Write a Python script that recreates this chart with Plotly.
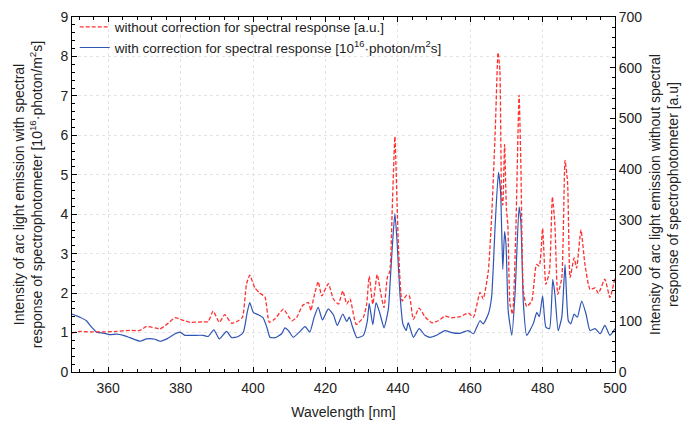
import plotly.graph_objects as go

# Blue: with correction (left axis, 10^16 photon/m^2 s)
wl_blue = [350.0, 352.2, 354.0, 355.0, 356.8, 358.7, 360.5, 362.3, 364.2, 366.0, 368.8, 370.6, 372.9, 374.3,
           376.2, 378.5, 379.8, 381.2, 383.5, 386.3, 387.6, 389.2, 390.7, 392.7, 394.1, 395.9, 397.3, 398.4,
           399.1, 400.1, 401.5, 402.8, 403.8, 404.7, 406.1, 407.9, 408.8, 409.8, 411.1, 412.5, 414.4, 415.7,
           416.9, 418.0, 419.2, 420.8, 422.2, 423.3, 424.8, 425.9, 426.6, 427.5, 428.7, 430.5, 431.6, 432.1,
           433.1, 434.0, 435.1, 436.2, 437.4, 437.9, 438.5, 439.2, 439.8, 440.6, 441.4, 442.3, 442.9, 444.3,
           445.9, 447.5, 448.9, 450.7, 453.0, 454.9, 457.0, 459.5, 460.9, 462.7, 463.6, 465.0, 465.9, 466.9,
           467.8, 468.4, 469.0, 469.5, 469.9, 470.5, 471.5, 472.4, 473.5, 474.0, 474.7, 475.6, 477.4, 478.4,
           479.1, 480.0, 480.9, 481.9, 482.8, 483.4, 484.3, 485.3, 486.2, 487.1, 487.8, 488.7, 489.6, 490.8,
           492.0, 493.1, 494.5, 495.9, 497.2, 498.6, 500.0]
blue = [1.47, 1.39, 1.30, 1.18, 1.01, 0.985, 0.95, 0.96, 0.93, 0.87, 0.78, 0.84, 0.83, 0.78,
        0.84, 0.97, 1.01, 0.93, 0.93, 0.93, 0.90, 1.07, 0.84, 1.03, 0.87, 0.90, 1.00, 1.51,
        1.76, 1.51, 1.45, 1.37, 1.14, 0.88, 0.87, 0.97, 1.12, 1.05, 0.88, 0.985, 1.15, 1.01,
        1.39, 1.64, 1.32, 1.60, 1.45, 1.18, 1.47, 1.28, 1.39, 1.14, 0.87, 0.93, 1.30, 1.74,
        1.20, 1.76, 1.47, 1.12, 1.60, 2.30, 3.20, 4.02, 3.30, 1.97, 1.22, 1.05, 1.25, 0.88,
        1.10, 0.93, 0.88, 0.93, 1.05, 1.00, 0.98, 1.05, 0.97, 1.30, 1.22, 1.47, 1.89, 3.73,
        5.06, 4.56, 2.60, 3.56, 3.23, 1.55, 0.93, 2.00, 4.19, 3.81, 1.72, 0.93, 1.22, 1.51,
        1.40, 1.93, 1.14, 1.10, 2.35, 1.97, 1.05, 1.39, 2.72, 1.30, 1.22, 1.47, 1.39, 1.80,
        1.47, 1.05, 1.10, 0.97, 1.18, 0.93, 1.10]

# Red: without correction (right axis, a.u.)
wl_red = [350.0, 352.2, 355.0, 358.7, 362.3, 366.0, 368.8, 370.6, 372.9, 374.3, 376.2, 378.5, 380.3, 382.6,
          386.3, 387.6, 389.0, 390.7, 392.2, 394.1, 395.9, 397.1, 398.2, 399.1, 400.5, 401.8, 403.3, 404.5,
          406.1, 408.4, 410.7, 412.1, 413.7, 415.3, 416.0, 416.7, 418.0, 419.0, 420.8, 422.2, 423.6, 424.8,
          425.9, 426.8, 428.5, 430.5, 431.4, 432.1, 433.1, 434.3, 435.5, 436.2, 437.1, 437.8, 438.5, 439.2,
          439.8, 440.2, 441.2, 442.5, 443.2, 444.3, 445.9, 447.5, 449.4, 451.2, 453.0, 454.9, 457.2, 459.5,
          460.9, 462.7, 463.6, 465.0, 465.9, 466.9, 467.7, 468.2, 468.7, 469.0, 469.5, 470.0, 470.4, 471.0,
          471.7, 472.6, 473.5, 474.0, 474.7, 475.6, 477.0, 478.3, 479.1, 480.0, 480.9, 481.9, 482.7, 483.4,
          484.2, 485.3, 486.2, 486.9, 487.6, 488.7, 489.4, 490.6, 491.7, 493.1, 494.5, 495.4, 497.2, 498.6,
          500.0]
red = [77, 80, 79, 79, 80, 82, 82, 90, 87, 85, 94, 107, 103, 98,
       99, 99, 120, 98, 113, 96, 101, 108, 173, 191, 166, 156, 148, 98,
       105, 124, 101, 108, 131, 137, 121, 144, 178, 150, 174, 144, 134, 160,
       134, 144, 94, 108, 134, 189, 134, 192, 147, 127, 186, 199, 330, 464,
       330, 244, 140, 152, 150, 104, 126, 109, 97, 101, 110, 107, 109, 116,
       108, 157, 144, 199, 303, 472, 630, 595, 342, 329, 449, 322, 290, 134,
       114, 277, 546, 407, 160, 129, 140, 212, 209, 283, 173, 199, 345, 290,
       153, 186, 417, 374, 186, 225, 205, 280, 212, 163, 166, 155, 183, 147,
       186]

FONT = "Liberation Sans, Arial, sans-serif"
INK = "#222222"

fig = go.Figure()
fig.add_trace(go.Scatter(
    x=wl_red, y=red, yaxis="y2", mode="lines",
    name="without correction for spectral response [a.u.]",
    line=dict(color="#ff3030", width=1.3, dash="4px,2px", shape="spline", smoothing=0.5),
))
fig.add_trace(go.Scatter(
    x=wl_blue, y=blue, mode="lines",
    name="with correction for spectral response [10<sup>16</sup>·photon/m<sup>2</sup>s]",
    line=dict(color="#2f55b4", width=1.2, shape="spline", smoothing=0.5),
))

axis_common = dict(
    showline=True, linecolor="black", linewidth=1,
    ticks="inside", ticklen=5, tickcolor="black",
    tickfont=dict(size=14, color=INK, family=FONT),
    zeroline=False, automargin=False,
)

fig.update_layout(
    width=692, height=425,
    margin=dict(l=72, r=77, t=13, b=53),
    paper_bgcolor="white", plot_bgcolor="white",
    font=dict(family=FONT, color=INK, size=14),
    showlegend=True,
    legend=dict(x=0.005, y=1.015, xanchor="left", yanchor="top",
                bgcolor="rgba(0,0,0,0)", font=dict(size=13.5, color=INK),
                tracegroupgap=0, itemwidth=30),
    xaxis=dict(
        range=[350, 500], tick0=360, dtick=20, mirror="ticks",
        showgrid=True, gridcolor="#e3e3e3", griddash="dot", gridwidth=1,
        minor=dict(ticks="inside", ticklen=3, dtick=4, tick0=360, tickcolor="black", showgrid=False),
        ticklabelstandoff=3,
        title=dict(text="Wavelength [nm]", font=dict(size=14), standoff=12),
        **axis_common,
    ),
    yaxis=dict(
        range=[0, 9], dtick=1,
        showgrid=True, gridcolor="#e3e3e3", griddash="dot", gridwidth=1,
        minor=dict(ticks="inside", ticklen=3, dtick=0.2, tickcolor="black", showgrid=False),
        title=dict(text="Intensity of arc light emission with spectral<br>response of spectrophotometer [10<sup>16</sup>·photon/m<sup>2</sup>s]",
                   font=dict(size=14), standoff=14),
        **axis_common,
    ),
    yaxis2=dict(
        range=[0, 700], dtick=100, overlaying="y", side="right",
        showgrid=False,
        minor=dict(ticks="inside", ticklen=3, dtick=20, tickcolor="black", showgrid=False),
        title=dict(text="Intensity of arc light emission without spectral<br>response of spectrophotometer [a.u]",
                   font=dict(size=14), standoff=8),
        **axis_common,
    ),
)

fig.write_html("out.html")
